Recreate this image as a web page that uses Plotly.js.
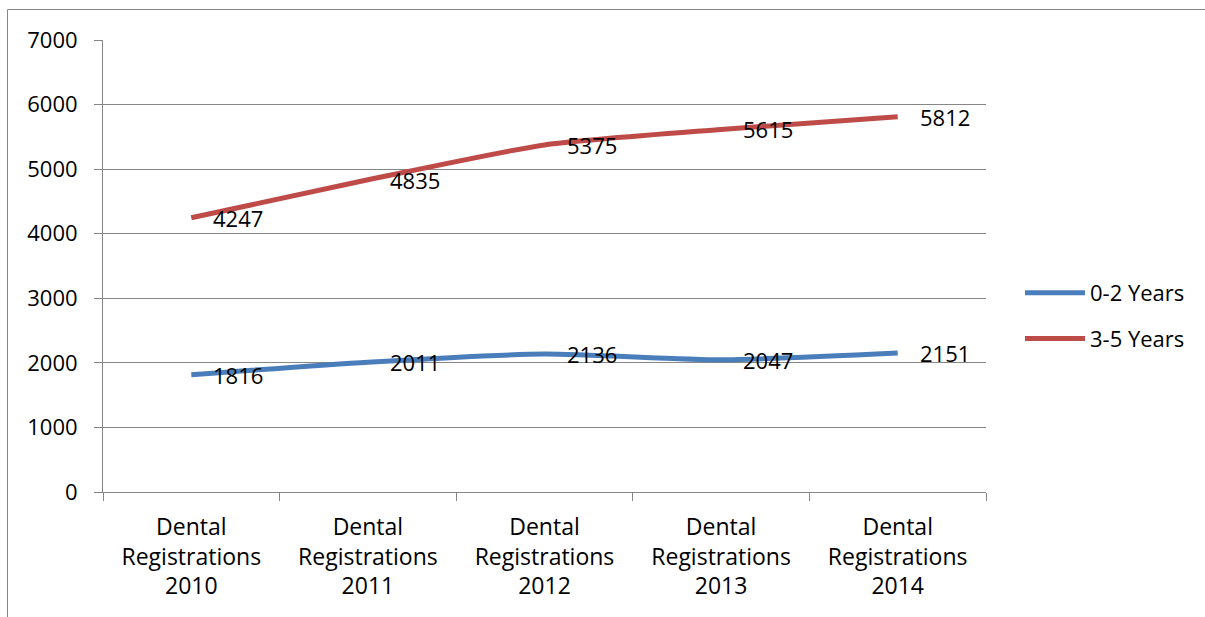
<!DOCTYPE html>
<html>
<head>
<meta charset="utf-8">
<script src="https://cdn.plot.ly/plotly-3.0.1.min.js"></script>
<style>
html,body{margin:0;padding:0;background:#fff;}
#chart{width:1205px;height:617px;}
</style>
</head>
<body>
<div id="chart"></div>
<script>
const categories = ["Dental Registrations 2010","Dental Registrations 2011","Dental Registrations 2012","Dental Registrations 2013","Dental Registrations 2014"];
const tickLabels = ["Dental<br>Registrations<br>2010","Dental<br>Registrations<br>2011","Dental<br>Registrations<br>2012","Dental<br>Registrations<br>2013","Dental<br>Registrations<br>2014"];
const seriesNames = ["0-2 Years","3-5 Years"];
const years0to2 = [1816, 2011, 2136, 2047, 2151];
const years3to5 = [4247, 4835, 5375, 5615, 5812];
const yTicks = [0,1000,2000,3000,4000,5000,6000,7000];

const FONT = '"Open Sans", "Noto Sans", sans-serif';
const GRID = '#868686';
const colors = ['#4A7EBB', '#BE4B48'];
const allSeries = [years0to2, years3to5];

const traces = allSeries.map((vals, i) => ({
  type: 'scatter',
  mode: 'lines',
  x: categories,
  y: vals,
  name: seriesNames[i],
  legendgroup: 'g' + i,
  line: {color: colors[i], width: 5, shape: 'spline', smoothing: 0.6},
  hoverinfo: 'x+y'
}));

const annotations = [];
allSeries.forEach(vals => {
  vals.forEach((v, j) => {
    annotations.push({
      x: categories[j], y: v, xref: 'x', yref: 'y',
      text: String(v), showarrow: false,
      xanchor: 'left', yanchor: 'middle', xshift: 20,
      font: {family: FONT, size: 22, color: '#000'}
    });
  });
});

// plot area: x 103..986, y 40..492
const PL = 103, PR = 986, PT = 40, PB = 492;
const px = X => (X - PL) / (PR - PL);
const py = Y => (PB - Y) / (PB - PT);

const layout = {
  width: 1205, height: 617,
  margin: {l: PL, r: 1205 - PR, t: PT, b: 617 - PB},
  paper_bgcolor: '#fff', plot_bgcolor: '#fff',
  font: {family: FONT, size: 22, color: '#000'},
  showlegend: true,
  legend: {
    x: px(1020), y: py(316), xanchor: 'left', yanchor: 'middle',
    font: {family: FONT, size: 22, color: '#000'},
    traceorder: 'grouped', tracegroupgap: 14,
    itemwidth: 60, bgcolor: 'rgba(0,0,0,0)'
  },
  xaxis: {
    type: 'category',
    tickvals: categories, ticktext: tickLabels,
    tickson: 'boundaries', ticks: 'outside', ticklen: 8, tickcolor: GRID, tickwidth: 1,
    showline: true, linecolor: GRID, linewidth: 1,
    showgrid: false, zeroline: false,
    ticklabelstandoff: 14,
    tickfont: {family: FONT, size: 23, color: '#000'},
    range: [-0.5, 4.5], fixedrange: true
  },
  yaxis: {
    range: [0, 7000], tickvals: yTicks, ticktext: yTicks.map(String),
    ticks: 'outside', ticklen: 8, tickcolor: GRID, tickwidth: 1,
    showline: true, linecolor: GRID, linewidth: 1,
    showgrid: true, gridcolor: GRID, gridwidth: 1, zeroline: false,
    ticklabelstandoff: 12,
    tickfont: {family: FONT, size: 22, color: '#000'},
    fixedrange: true
  },
  shapes: [{
    type: 'rect', xref: 'paper', yref: 'paper',
    x0: px(7.5), x1: px(1215), y0: py(625), y1: py(9.5),
    line: {color: GRID, width: 1}, fillcolor: 'rgba(0,0,0,0)', layer: 'below'
  }],
  annotations: annotations
};

Plotly.newPlot('chart', traces, layout, {displayModeBar: false, staticPlot: true});
</script>
</body>
</html>
